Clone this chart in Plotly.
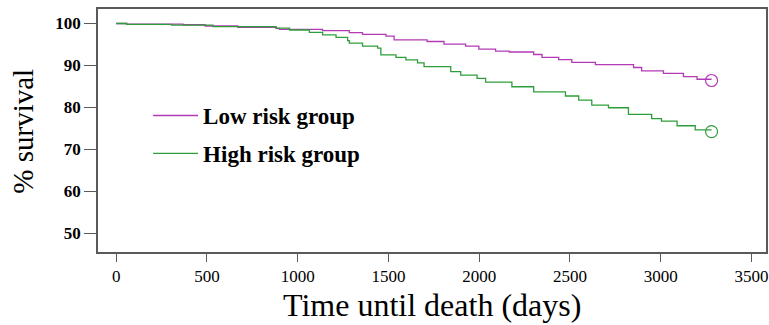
import plotly.graph_objects as go

low_t = [0, 57, 368, 490, 670, 881, 899, 1137, 1284, 1357, 1486, 1531, 1713, 1806, 1925, 1998,
         2090, 2165, 2300, 2346, 2438, 2510, 2640, 2850, 2895, 3015, 3125, 3200, 3280]
low_s = [100, 99.85, 99.7, 99.4, 99.1, 98.85, 98.6, 98.3, 97.8, 97.4, 97.0, 96.1, 95.7, 95.1, 94.6, 93.9,
         93.4, 93.2, 92.6, 91.9, 91.4, 90.7, 90.2, 89.5, 88.7, 88.1, 87.3, 86.7, 86.7]

high_t = [0, 57, 304, 533, 881, 955, 1064, 1137, 1211, 1275, 1284, 1357, 1440, 1458, 1541, 1596,
          1660, 1696, 1843, 1898, 1988, 2035, 2180, 2300, 2475, 2548, 2620, 2712, 2822, 2950,
          3004, 3090, 3190, 3280]
high_s = [100, 99.8, 99.6, 99.25, 98.9, 98.45, 97.9, 97.3, 96.7, 95.9, 95.3, 94.6, 94.1, 92.5, 91.9, 91.3,
          90.6, 89.7, 88.5, 87.7, 86.9, 86.0, 84.9, 83.7, 82.7, 81.7, 80.5, 79.9, 78.3, 77.3,
          76.7, 75.6, 74.6, 74.6]

censor_t = 3280
low_censor = 86.4
high_censor = 74.2

x_ticks = [0, 500, 1000, 1500, 2000, 2500, 3000, 3500]
y_ticks = [50, 60, 70, 80, 90, 100]

LOW_C = "#b23ab5"
HIGH_C = "#2e9e3a"
AX_C = "#5a5a5a"
SERIF = "Liberation Serif"

fig = go.Figure()
fig.add_trace(go.Scatter(x=low_t, y=low_s, mode="lines", line=dict(color=LOW_C, width=1.3, shape="hv"),
                         name="Low risk group", legendgroup="low"))
fig.add_trace(go.Scatter(x=high_t, y=high_s, mode="lines", line=dict(color=HIGH_C, width=1.3, shape="hv"),
                         name="High risk group", legendgroup="high"))
fig.add_trace(go.Scatter(x=[censor_t], y=[low_censor], mode="markers", showlegend=False,
                         marker=dict(symbol="circle-open", size=12, color=LOW_C, line=dict(width=1.2))))
fig.add_trace(go.Scatter(x=[censor_t], y=[high_censor], mode="markers", showlegend=False,
                         marker=dict(symbol="circle-open", size=12, color=HIGH_C, line=dict(width=1.2))))

fig.update_layout(
    width=769, height=325,
    margin=dict(l=98, r=1, t=9, b=73),
    plot_bgcolor="white", paper_bgcolor="white",
    showlegend=True,
    legend=dict(x=0.075, y=0.65, xanchor="left", yanchor="top",
                font=dict(family=SERIF, size=23, color="black", weight="bold"),
                bgcolor="rgba(0,0,0,0)", tracegroupgap=5, traceorder="grouped",
                itemwidth=45),
    xaxis=dict(range=[-100.5, 3580], tickvals=x_ticks, ticktext=[str(v) for v in x_ticks],
               showgrid=False, zeroline=False, showline=True, mirror=True,
               linecolor=AX_C, linewidth=1.5, ticks="outside", ticklen=8, tickcolor=AX_C, tickwidth=1,
               tickfont=dict(family=SERIF, size=17, color="black")),
    yaxis=dict(range=[45.47, 103.46], tickvals=y_ticks, ticktext=[str(v) for v in y_ticks],
               showgrid=False, zeroline=False, showline=True, mirror=True,
               linecolor=AX_C, linewidth=1.5, ticks="outside", ticklen=12, tickcolor=AX_C, tickwidth=1,
               tickfont=dict(family=SERIF, size=17, color="black", weight="bold")),
    annotations=[
        dict(text="% survival", xref="paper", yref="paper", x=-0.112, y=0.496,
             xanchor="center", yanchor="middle", textangle=-90, showarrow=False,
             font=dict(family=SERIF, size=29, color="black")),
        dict(text="Time until death (days)", xref="paper", yref="paper", x=0.5, y=-0.218,
             xanchor="center", yanchor="middle", showarrow=False,
             font=dict(family=SERIF, size=32, color="black")),
    ],
)

fig.write_html("out.html")
